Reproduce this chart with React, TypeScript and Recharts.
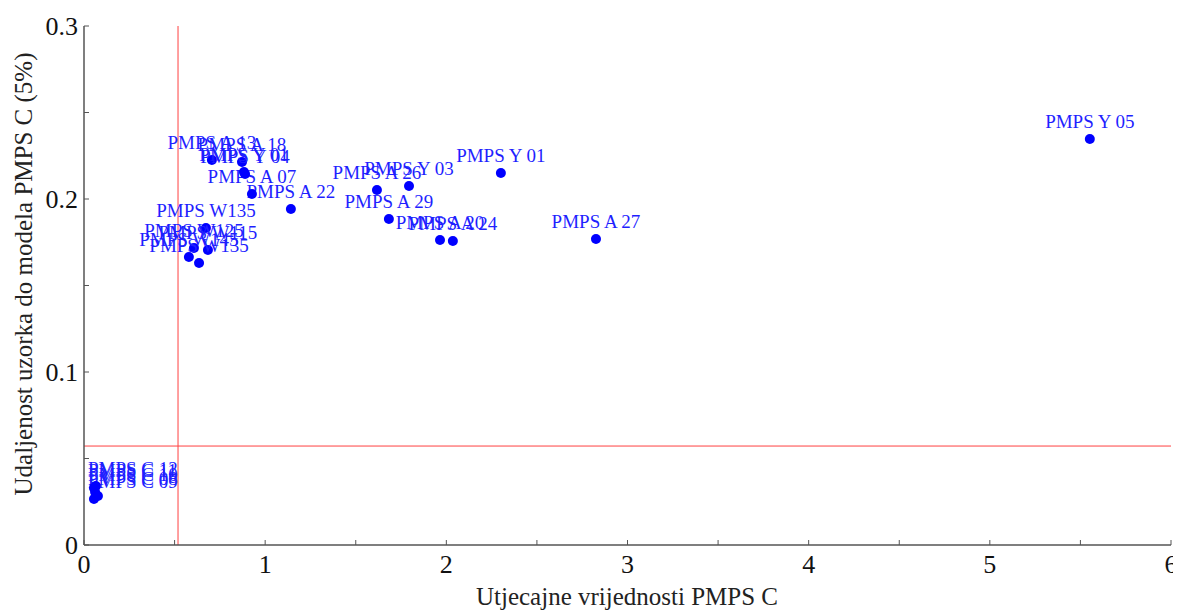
import React from "react";
import {
  Label,
  ReferenceLine,
  Scatter,
  ScatterChart,
  XAxis,
  YAxis,
} from "recharts";

// sample names, influence values (x) and model distance (y)
const names = [
  "PMPS Y 05", "PMPS Y 01", "PMPS A 27", "PMPS Y 03", "PMPS A 26",
  "PMPS A 29", "PMPS A 20", "PMPS A 24", "PMPS A 22", "PMPS A 07",
  "PMPS A 13", "PMPS A 18", "PMPS Y 01", "PMPS Y 04",
  "PMPS W135", "PMPS W125", "PMPS W115", "PMPS W145", "PMPS W135",
  "PMPS C 09", "PMPS C 08", "PMPS C 10", "PMPS C 11", "PMPS C 12",
];
const xValues = [
  5.552, 2.301, 2.826, 1.794, 1.617,
  1.683, 1.965, 2.036, 1.142, 0.927,
  0.706, 0.872, 0.883, 0.889,
  0.673, 0.607, 0.684, 0.579, 0.635,
  0.055, 0.077, 0.061, 0.055, 0.066,
];
const yValues = [
  0.2347, 0.215, 0.1769, 0.2075, 0.2052,
  0.1884, 0.1763, 0.1757, 0.1942, 0.2029,
  0.2225, 0.2214, 0.2156, 0.2145,
  0.1832, 0.1717, 0.1705, 0.1665, 0.163,
  0.0266, 0.0283, 0.0306, 0.033, 0.0341,
];

const xTicks = [0, 0.5, 1, 1.5, 2, 2.5, 3, 3.5, 4, 4.5, 5, 5.5, 6];
const yTicks = [0, 0.05, 0.1, 0.15, 0.2, 0.25, 0.3];

const xLimit = 0.519; // red vertical line
const yLimit = 0.0572; // red horizontal line

const data = names.map((name, i) => ({ name, x: xValues[i], y: yValues[i] }));

const FONT = '"Liberation Serif", "Times New Roman", serif';
const PLOT_LEFT = 76;
const PLOT_BOTTOM = 537;
const AXIS_COLOR = "#555";

const XTick = (props: any) => {
  const { x, payload } = props;
  const v = payload.value;
  const major = Math.abs(v - Math.round(v)) < 1e-6;
  return (
    <g>
      <line x1={x} x2={x} y1={PLOT_BOTTOM} y2={PLOT_BOTTOM - 5} stroke={AXIS_COLOR} />
      {major && (
        <text x={x} y={565} textAnchor="middle" fontSize={26} fontFamily={FONT} fill="#111">
          {v}
        </text>
      )}
    </g>
  );
};

const YTick = (props: any) => {
  const { y, payload } = props;
  const v = payload.value;
  const major = Math.abs(v * 10 - Math.round(v * 10)) < 1e-6;
  return (
    <g>
      <line x1={PLOT_LEFT} x2={PLOT_LEFT + 5} y1={y} y2={y} stroke={AXIS_COLOR} />
      {major && (
        <text x={PLOT_LEFT - 6} y={y + 9} textAnchor="end" fontSize={26} fontFamily={FONT} fill="#111">
          {v}
        </text>
      )}
    </g>
  );
};

const Point = (props: any) => {
  const { cx, cy, payload } = props;
  const half = payload.name.length * 5;
  const clamp = cx - half < PLOT_LEFT + 4;
  return (
    <g>
      <circle cx={cx} cy={cy} r={5} fill="#0000ff" />
      <text
        x={clamp ? PLOT_LEFT + 4 : cx}
        y={cy - 11}
        textAnchor={clamp ? "start" : "middle"}
        fontSize={19}
        fontFamily={FONT}
        fill="#1f1fff"
      >
        {payload.name}
      </text>
    </g>
  );
};

export default function App() {
  return (
    <ScatterChart
      width={1173}
      height={604}
      margin={{ top: 18, right: 10, left: 16, bottom: 27 }}
      style={{ overflow: "visible" }}
    >
      <XAxis
        type="number"
        dataKey="x"
        domain={[0, 6]}
        ticks={xTicks}
        height={40}
        tickLine={false}
        tick={<XTick />}
        axisLine={{ stroke: AXIS_COLOR, strokeWidth: 1.5 }}
      >
        <Label
          content={() => (
            <text x={619} y={597} textAnchor="middle" fontSize={25} fontFamily={FONT} fill="#222">
              Utjecajne vrijednosti PMPS C
            </text>
          )}
        />
      </XAxis>
      <YAxis
        type="number"
        dataKey="y"
        domain={[0, 0.3]}
        ticks={yTicks}
        width={60}
        tickLine={false}
        tick={<YTick />}
        axisLine={{ stroke: AXIS_COLOR, strokeWidth: 1.5 }}
      >
        <Label
          content={() => (
            <text
              x={0}
              y={0}
              transform="translate(24, 266) rotate(-90)"
              textAnchor="middle"
              fontSize={25}
              fontFamily={FONT}
              fill="#222"
            >
              Udaljenost uzorka do modela PMPS C (5%)
            </text>
          )}
        />
      </YAxis>
      <ReferenceLine x={xLimit} stroke="#ff4040" strokeWidth={1} />
      <ReferenceLine y={yLimit} stroke="#ff4040" strokeWidth={1} />
      <Scatter data={data} shape={<Point />} isAnimationActive={false} />
    </ScatterChart>
  );
}
